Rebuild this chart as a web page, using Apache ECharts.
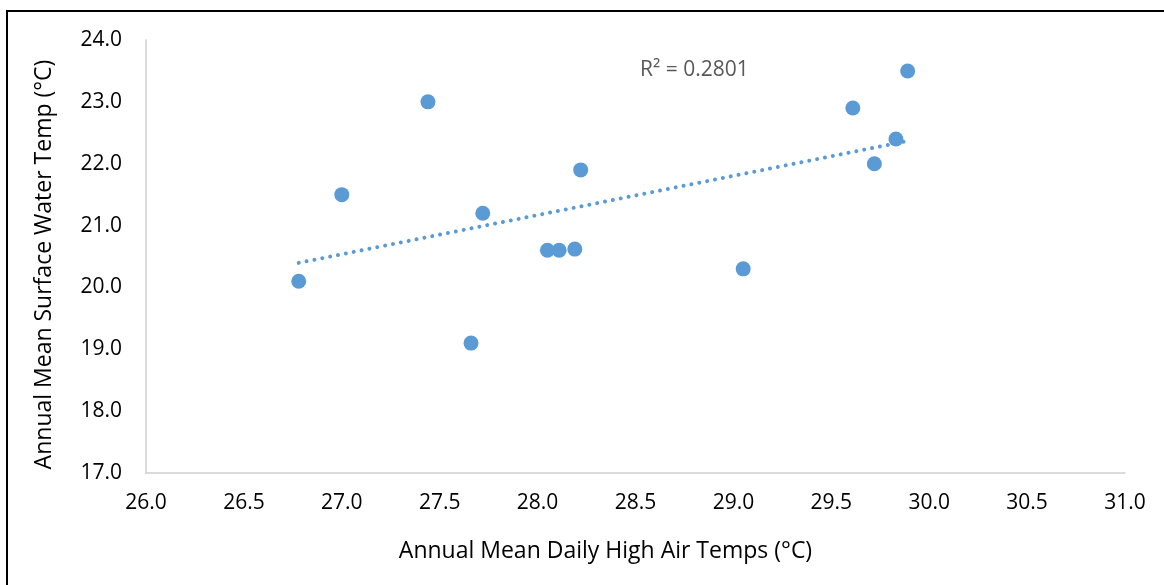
<!DOCTYPE html>
<html>
<head>
<meta charset="utf-8">
<script src="https://cdn.jsdelivr.net/npm/echarts@6/dist/echarts.min.js"></script>
<style>
html,body{margin:0;padding:0;background:#fff;}
#chart{width:1164px;height:585px;}
</style>
</head>
<body>
<div id="chart"></div>
<script>
// Data
var airTemps = [26.78, 27.00, 27.44, 27.72, 27.66, 28.05, 28.11, 28.19, 28.22, 29.05, 29.61, 29.72, 29.83, 29.89];
var waterTemps = [20.1, 21.5, 23.0, 21.2, 19.1, 20.6, 20.6, 20.62, 21.9, 20.3, 22.9, 22.0, 22.4, 23.5];
var r2Label = 'R² = 0.2801';
var xAxisTitle = 'Annual Mean Daily High Air Temps (°C)';
var yAxisTitle = 'Annual Mean Surface Water Temp (°C)';

var points = airTemps.map(function (x, i) { return [x, waterTemps[i]]; });

// Linear least-squares trendline (derived from the data)
var n = airTemps.length, sx = 0, sy = 0;
for (var i = 0; i < n; i++) { sx += airTemps[i]; sy += waterTemps[i]; }
var mx = sx / n, my = sy / n, sxy = 0, sxx = 0;
for (var j = 0; j < n; j++) { sxy += (airTemps[j] - mx) * (waterTemps[j] - my); sxx += (airTemps[j] - mx) * (airTemps[j] - mx); }
var slope = sxy / sxx, intercept = my - slope * mx;
var xMin = Math.min.apply(null, airTemps), xMax = Math.max.apply(null, airTemps);
var trend = [[xMin, intercept + slope * xMin], [xMax, intercept + slope * xMax]];

var FONT = '"Open Sans", "Noto Sans", sans-serif';
var chart = echarts.init(document.getElementById('chart'), null, {renderer: 'canvas'});
chart.setOption({
  animation: false,
  backgroundColor: '#ffffff',
  grid: {left: 146, right: 39, top: 40, bottom: 112},
  xAxis: {
    type: 'value', min: 26, max: 31, interval: 0.5,
    name: xAxisTitle, nameLocation: 'middle', nameGap: 67,
    nameTextStyle: {fontFamily: FONT, fontSize: 23, color: '#000', padding: [0, 60, 0, 0]},
    axisLine: {show: true, lineStyle: {color: '#d0d0d0', width: 1.5}},
    axisTick: {show: false},
    splitLine: {show: false},
    axisLabel: {fontFamily: FONT, fontSize: 21, color: '#000', margin: 20,
      formatter: function (v) { return v.toFixed(1); }}
  },
  yAxis: {
    type: 'value', min: 17, max: 24, interval: 1,
    name: yAxisTitle, nameLocation: 'middle', nameGap: 90,
    nameTextStyle: {fontFamily: FONT, fontSize: 23, color: '#000', padding: [0, 16, 0, 0]},
    axisLine: {show: true, lineStyle: {color: '#d0d0d0', width: 1.5}},
    axisTick: {show: false},
    splitLine: {show: false},
    axisLabel: {fontFamily: FONT, fontSize: 21, color: '#000', margin: 24,
      formatter: function (v) { return v.toFixed(1); }}
  },
  series: [
    {
      type: 'line', data: trend, showSymbol: false, symbol: 'none', z: 1,
      lineStyle: {color: '#5b9bd5', width: 4, type: [0.01, 8], cap: 'round'}
    },
    {
      type: 'scatter', data: points, symbolSize: 15, z: 2,
      itemStyle: {color: '#5b9bd5', opacity: 1}
    }
  ],
  graphic: [
    {type: 'rect', shape: {x: 7, y: 11, width: 1300, height: 700},
      style: {fill: 'none', stroke: '#000', lineWidth: 2}, silent: true},
    {type: 'text', x: 640, y: 70,
      style: {text: r2Label, font: '21px ' + FONT, fill: '#595959', textVerticalAlign: 'middle'}}
  ]
});
</script>
</body>
</html>
